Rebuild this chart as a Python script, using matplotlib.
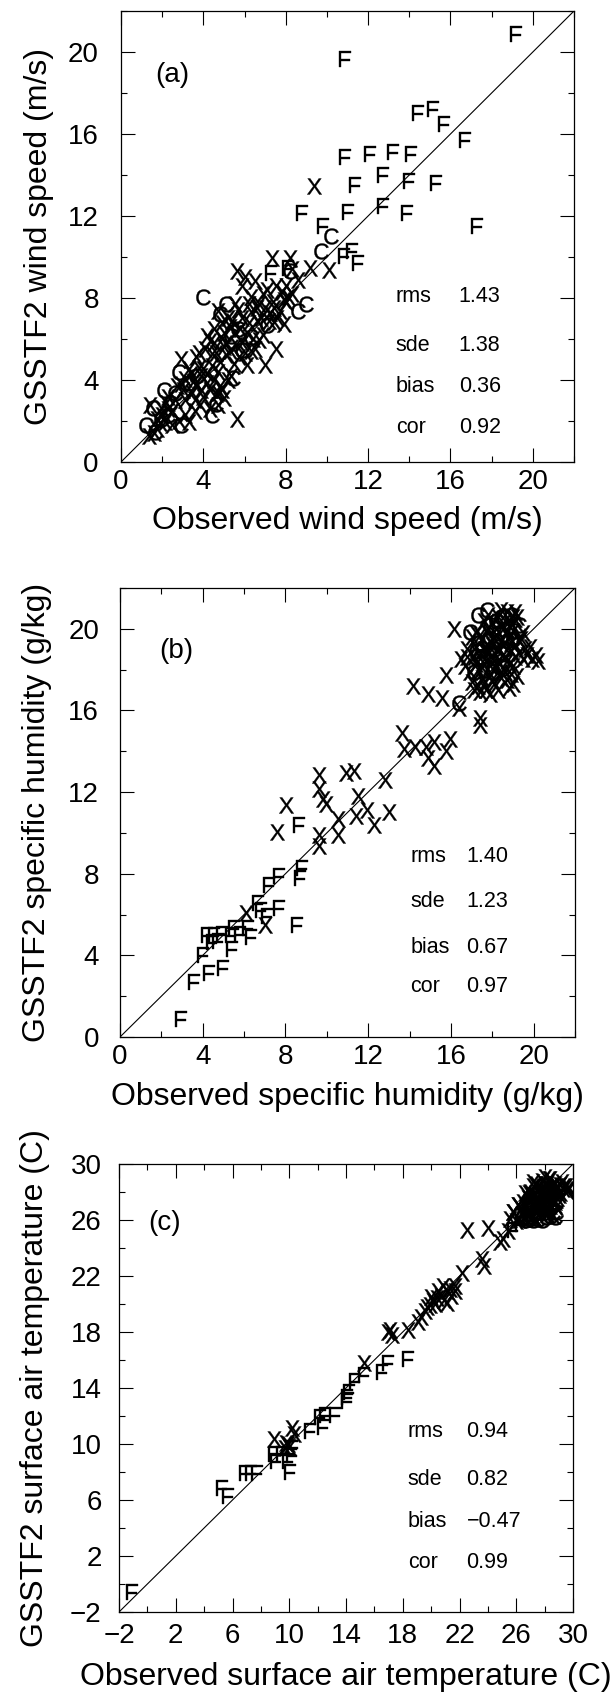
import matplotlib
matplotlib.use('Agg')
import matplotlib.pyplot as plt
from matplotlib.ticker import MultipleLocator

plt.rcParams['font.family'] = ['Liberation Sans', 'DejaVu Sans']
plt.rcParams['mathtext.fontset'] = 'custom'
plt.rcParams['mathtext.rm'] = 'Liberation Sans'
plt.rcParams['axes.unicode_minus'] = True

# ---------------- Panel (a): wind speed ----------------
a_X_x = [7.35, 8.2, 5.65, 8.3, 6.5, 5.9, 7.1, 7.55, 8.0, 8.1, 6.3, 5.55, 6.7, 7.45, 7.25, 7.7, 4.7, 5.2, 5.9, 7.45,
         7.9, 4.5, 5.55, 6.1, 6.7, 4.2, 5.1, 5.9, 6.5, 3.65, 4.4, 5.1, 5.75, 6.1, 2.9, 3.3, 4.0, 4.7, 5.35, 3.1,
         3.65, 4.2, 4.8, 2.7, 3.45, 4.0, 4.7, 2.3, 3.1, 3.85, 1.95, 2.5, 3.1, 1.4, 1.75, 2.15, 3.3, 2.5, 1.35, 1.75,
         4.7, 4.9, 4.5, 4.8, 4.1, 7.0, 7.55, 5.65, 9.35, 10.1, 9.2, 8.6, 8.0, 6.6, 6.9, 5.3, 4.9, 3.9, 4.4, 6.3,
         7.0, 7.6, 7.9, 6.0, 6.9, 5.2, 4.6, 2.8, 2.0, 3.5,
         2.2, 2.6, 3.0, 3.4, 3.8, 4.2, 4.5, 4.3, 3.9, 3.6, 5.0, 5.3, 5.6, 5.0, 5.4, 5.8, 6.2, 6.4, 6.8, 7.2,
         7.4, 6.6, 6.2, 5.7, 4.9, 4.3, 3.8, 4.6, 5.5, 6.0, 6.3, 2.9, 2.3, 1.9, 1.6, 3.6, 4.3, 5.0, 8.3, 7.8]
a_X_y = [9.95, 9.95, 9.3, 9.4, 8.85, 8.6, 8.4, 8.6, 8.6, 8.05, 8.05, 7.7, 7.7, 7.5, 7.25, 7.35, 7.35, 7.0, 7.0, 6.85,
         6.75, 6.5, 6.3, 6.3, 5.95, 6.15, 5.8, 5.8, 5.5, 5.1, 5.25, 5.2, 5.1, 4.75, 5.0, 4.55, 4.55, 4.4, 4.2, 4.05,
         3.8, 3.85, 3.7, 3.7, 3.35, 3.15, 3.35, 3.15, 3.0, 2.8, 2.65, 2.5, 2.3, 2.8, 2.1, 1.95, 1.95, 1.8, 1.25, 1.6,
         2.8, 3.5, 5.8, 4.9, 5.5, 4.75, 5.5, 2.1, 13.45, 9.35, 9.45, 8.9, 7.8, 6.9, 6.2, 6.6, 6.0, 4.2, 4.7, 7.3,
         7.5, 7.0, 7.9, 9.0, 8.2, 4.0, 3.3, 2.0, 2.3, 3.9,
         2.9, 3.0, 3.5, 4.3, 4.6, 4.3, 4.0, 3.5, 3.5, 3.0, 5.6, 5.4, 5.7, 6.3, 6.9, 6.5, 6.8, 6.0, 7.0, 6.9,
         7.8, 7.5, 7.7, 7.4, 6.8, 5.9, 5.3, 5.3, 4.8, 5.3, 5.4, 3.8, 2.6, 1.9, 1.4, 2.5, 2.6, 3.1, 8.2, 8.3]
a_C_x = [1.2, 1.55, 2.1, 2.8, 2.9, 2.3, 2.6, 1.65, 1.95, 4.4, 5.45, 4.0, 5.1, 4.8, 5.7, 6.3, 7.1, 9.0, 8.6, 10.2,
         9.7, 8.2, 3.65, 3.3, 5.9, 5.35, 2.4, 4.6]
a_C_y = [1.8, 2.65, 3.5, 4.4, 1.8, 2.3, 3.35, 1.45, 2.1, 2.3, 4.1, 8.05, 7.7, 7.2, 6.5, 6.1, 6.7, 7.7, 7.35, 11.0,
         10.3, 9.3, 4.2, 3.85, 5.45, 6.15, 2.9, 2.85]
a_F_x = [19.2, 10.9, 14.4, 15.15, 15.7, 16.7, 10.9, 12.1, 13.2, 14.1, 12.7, 14.0, 15.3, 11.35, 8.8, 11.0, 12.7,
         13.9, 17.3, 9.8, 10.85, 11.2, 11.5, 7.3, 8.1]
a_F_y = [20.9, 19.65, 17.0, 17.2, 16.5, 15.7, 14.9, 15.0, 15.1, 15.0, 14.0, 13.7, 13.6, 13.5, 12.15, 12.2, 12.5,
         12.15, 11.5, 11.5, 10.05, 10.3, 9.7, 9.2, 9.45]
a_stat_names = ['rms', 'sde', 'bias', 'cor']
a_stat_values = ['1.43', '1.38', '0.36', '0.92']

# ---------------- Panel (b): specific humidity ----------------
b_X_x = [6.1, 7.0, 8.05, 7.6, 9.6, 9.6, 9.8, 9.95, 9.6, 9.6, 10.55, 10.55, 10.95, 11.3, 11.5, 11.4, 11.95, 12.3,
         12.8, 13.0, 13.65, 13.75, 14.25, 14.15, 14.9, 15.55, 14.8, 14.9, 15.2, 15.2, 15.75, 15.95, 15.75, 16.15,
         16.4, 17.4, 17.4,
         16.5, 16.7, 16.9, 17.0, 17.1, 17.2, 17.3, 17.3, 17.4, 17.5, 17.5, 17.6, 17.7, 17.7, 17.8, 17.9, 17.9, 18.0,
         18.0, 18.1, 18.2, 18.2, 18.3, 18.3, 18.4, 18.5, 18.5, 18.6, 18.6, 18.7, 18.7, 18.8, 18.9, 18.9, 19.0, 19.0,
         19.1, 19.2, 19.3, 19.4, 19.5, 19.7, 19.9, 20.2, 20.1, 17.6, 17.8, 18.4, 19.1, 18.1, 17.4, 17.9, 18.3, 18.7,
         19.2, 17.2, 16.8, 17.0, 18.6, 18.0, 18.4, 17.6, 19.0, 18.8, 19.6,
         17.2, 17.5, 17.7, 17.9, 18.1, 18.3, 18.5, 18.7, 18.9, 19.1, 17.4, 17.8, 18.2, 18.6, 19.0, 18.0, 18.4, 18.8,
         17.6, 19.3, 19.5, 17.1, 16.8, 19.8, 18.9]
b_X_y = [6.1, 5.5, 11.35, 10.05, 12.85, 12.15, 11.65, 11.4, 9.9, 9.35, 10.7, 9.9, 12.95, 13.05, 11.8, 10.85, 11.1,
         10.4, 12.6, 11.0, 14.9, 14.1, 14.2, 17.2, 16.8, 16.6, 14.2, 13.65, 14.45, 13.3, 14.0, 14.6, 17.75, 20.0,
         16.1, 15.65, 15.3,
         18.5, 18.2, 17.9, 17.4, 18.6, 19.1, 18.0, 17.2, 18.8, 19.5, 17.6, 18.3, 19.9, 17.0, 18.9, 19.4, 17.8, 20.3,
         18.5, 17.3, 19.7, 18.1, 20.6, 19.0, 17.6, 18.7, 20.0, 19.3, 17.9, 20.8, 18.4, 19.6, 18.9, 20.3, 19.9, 18.2,
         19.2, 20.6, 18.8, 19.5, 18.5, 18.7, 18.5, 18.4, 18.7, 20.4, 20.7, 20.9, 20.8, 18.8, 16.9, 16.8, 17.0, 17.5,
         17.7, 18.3, 19.0, 19.6, 18.6, 19.2, 19.4, 19.0, 17.3, 17.1, 19.0,
         19.8, 18.1, 18.6, 18.2, 19.5, 18.4, 19.2, 19.9, 19.3, 18.6, 19.7, 20.0, 20.0, 20.4, 20.6, 17.5, 17.9, 18.3,
         17.3, 19.4, 19.8, 17.0, 18.6, 19.1, 17.8]
b_C_x = [16.4, 17.3, 17.75, 18.5, 18.9, 16.9, 17.4, 17.1, 17.8, 18.3, 18.0, 18.6, 19.1, 17.6, 18.4, 17.3, 18.8,
         18.2, 17.9, 19.3, 17.5, 18.1, 18.5, 17.9, 18.7, 17.2, 18.4, 19.0]
b_C_y = [16.35, 20.7, 20.9, 20.65, 20.7, 19.85, 18.6, 17.9, 19.4, 19.8, 17.9, 19.0, 19.9, 18.0, 18.2, 19.3, 20.1,
         20.4, 20.2, 20.2, 19.0, 19.0, 18.1, 18.7, 19.4, 18.9, 20.6, 19.5]
b_F_x = [2.95, 3.6, 4.0, 4.3, 5.0, 4.2, 4.55, 4.95, 5.35, 5.4, 5.5, 5.8, 6.2, 6.35, 6.65, 6.8, 7.1, 7.7, 7.2, 7.7,
         8.7, 8.8, 8.55, 8.65, 4.45, 4.75]
b_F_y = [0.87, 2.7, 4.0, 3.15, 3.4, 5.0, 5.0, 5.05, 5.0, 4.3, 5.35, 5.05, 5.35, 4.9, 6.55, 6.2, 5.95, 6.3, 7.45,
         7.9, 7.8, 8.3, 5.5, 10.4, 4.65, 4.7]
b_stat_names = ['rms', 'sde', 'bias', 'cor']
b_stat_values = ['1.40', '1.23', '0.67', '0.97']

# ---------------- Panel (c): surface air temperature ----------------
c_X_x = [8.95, 10.2, 10.35, 9.7, 9.9, 10.0, 9.8, 15.3, 16.95, 17.1, 17.25, 18.35, 19.05, 19.3, 19.6, 19.9, 20.15,
         20.4, 20.7, 20.85, 21.1, 21.4, 21.7, 21.1, 21.7, 22.2, 22.5, 23.6, 23.75, 24.0, 24.85, 25.1, 25.4, 25.55,
         25.8, 26.1, 26.65, 27.2, 20.0, 20.3, 20.9, 19.7, 21.3, 20.5,
         26.3, 26.5, 26.6, 26.8, 26.9, 27.0, 27.1, 27.2, 27.3, 27.4, 27.5, 27.6, 27.7, 27.8, 27.9, 28.0, 28.1, 28.2,
         28.3, 28.4, 28.5, 28.6, 28.7, 28.8, 28.9, 29.0, 29.1, 29.3, 29.5, 29.6, 26.7, 27.0, 27.3, 27.6, 27.9, 28.2,
         28.4, 28.7, 26.4, 26.2, 26.0, 25.8, 26.1, 27.2, 27.8, 28.4, 28.0, 28.3, 29.4, 29.55, 28.85,
         26.7, 27.0, 27.3, 27.5, 27.7, 27.9, 28.1, 28.3, 28.5, 28.7, 28.9, 29.1, 26.9, 27.4, 28.0, 28.6, 27.1, 28.2,
         29.2, 29.7]
c_X_y = [10.35, 11.15, 10.75, 9.7, 10.0, 9.8, 10.1, 15.8, 18.0, 18.15, 17.8, 18.15, 18.7, 19.1, 19.5, 19.9, 20.25,
         20.4, 20.6, 21.3, 20.9, 20.6, 20.9, 20.1, 21.3, 22.2, 25.3, 23.2, 22.7, 25.45, 24.4, 24.65, 25.2, 26.1,
         26.6, 27.1, 27.9, 28.7, 20.5, 20.0, 20.3, 19.8, 21.1, 20.9,
         26.8, 27.3, 26.2, 27.6, 26.6, 28.0, 27.1, 26.3, 27.8, 26.9, 28.3, 27.4, 26.5, 28.0, 27.2, 28.6, 26.8, 27.7,
         28.2, 27.0, 28.5, 27.5, 28.0, 26.9, 28.3, 27.8, 28.5, 28.2, 28.4, 28.1, 27.0, 26.5, 27.3, 26.9, 27.7, 26.4,
         27.6, 27.3, 26.4, 26.0, 25.9, 26.6, 27.1, 28.4, 28.8, 28.9, 29.1, 28.95, 28.4, 28.2, 28.4,
         26.4, 27.4, 26.1, 27.0, 27.9, 26.6, 27.4, 26.7, 27.9, 28.6, 27.6, 27.9, 27.9, 28.6, 28.2, 26.3, 26.2, 28.6,
         28.7, 28.3]
c_C_x = [26.6, 26.9, 27.2, 27.5, 27.8, 28.1, 28.4, 28.6, 28.7, 27.0, 27.4, 27.8, 28.2, 27.6, 27.1, 26.8, 28.0,
         27.3, 28.5, 27.9, 26.5, 27.0, 27.6, 28.3, 28.8, 27.2, 27.9, 28.4, 26.9, 27.5, 28.1, 28.8]
c_C_y = [26.0, 26.1, 26.0, 26.1, 26.0, 26.2, 26.3, 26.6, 26.2, 26.8, 27.5, 27.3, 27.9, 28.1, 27.6, 27.2, 26.6,
         26.5, 27.2, 28.4, 26.3, 26.3, 26.6, 26.9, 27.3, 27.0, 27.0, 27.5, 27.5, 27.9, 28.0, 26.6]
c_F_x = [-1.1, 5.25, 5.65, 6.9, 7.3, 7.7, 8.95, 9.5, 10.05, 10.2, 10.2, 11.45, 12.15, 12.4, 13.25, 12.55, 14.1,
         14.2, 14.65, 15.3, 16.55, 16.95, 18.35, 25.8, 26.35, 14.1, 9.1, 9.9]
c_F_y = [-0.57, 6.85, 6.3, 7.9, 7.9, 7.9, 9.3, 9.3, 8.0, 9.7, 9.2, 10.9, 11.9, 11.25, 12.05, 12.05, 13.35, 13.75,
         14.5, 14.9, 15.15, 15.8, 16.1, 25.3, 25.7, 13.1, 8.8, 8.8]
c_stat_names = ['rms', 'sde', 'bias', 'cor']
c_stat_values = ['0.94', '0.82', '\u22120.47', '0.99']

W, H = 612, 1692
fig = plt.figure(figsize=(W / 100, H / 100), dpi=100)


def panel(px_rect, lims, offset, series, tag, tag_xy, xlabel, ylabel, names, values, name_x, val_x, stat_y,
          ylab_x, xlab_y, ypad, xpad):
    l, t, r, b = px_rect
    ax = fig.add_axes([l / W, 1 - b / H, (r - l) / W, (b - t) / H])
    ax.set_xlim(*lims)
    ax.set_ylim(*lims)
    ax.plot(lims, lims, color='black', lw=0.8, zorder=1)
    for (mx, my), letter in zip(series, ['X', 'C', 'F']):
        ax.plot(mx, my, ls='none', marker=r'$\mathrm{%s}$' % letter, ms=11.5, color='black', mew=0.25, zorder=2)
    for ax_ in (ax.xaxis, ax.yaxis):
        ax_.set_major_locator(MultipleLocator(4, offset=offset))
        ax_.set_minor_locator(MultipleLocator(2))
    ax.tick_params(which='both', direction='in', top=True, right=True, width=0.8)
    ax.tick_params(which='major', length=10)
    ax.tick_params(which='minor', length=4.5)
    ax.tick_params(axis='y', which='major', labelsize=20, pad=ypad)
    ax.tick_params(axis='x', which='major', labelsize=20, pad=xpad)
    for s in ax.spines.values():
        s.set_linewidth(0.9)
    ax.set_xlabel(xlabel, fontsize=23, va='center')
    ax.xaxis.set_label_coords(0.5, xlab_y)
    ax.set_ylabel(ylabel, fontsize=23, va='center')
    ax.yaxis.set_label_coords(ylab_x, 0.5)
    ax.text(tag_xy[0], tag_xy[1], tag, fontsize=20, ha='center', va='center')
    for n, v, yy in zip(names, values, stat_y):
        ax.text(name_x, yy, n, fontsize=15.5, ha='left', va='center')
        ax.text(val_x, yy, v, fontsize=15.5, ha='left', va='center')
    return ax


panel((121, 11, 574, 462), (0, 22), 0,
      [(a_X_x, a_X_y), (a_C_x, a_C_y), (a_F_x, a_F_y)], '(a)', (2.5, 18.9),
      'Observed wind speed (m/s)', 'GSSTF2 wind speed (m/s)',
      a_stat_names, a_stat_values, 13.35, 16.4, [8.06, 5.7, 3.7, 1.69], -0.18, -0.13, 16, 5)

panel((120, 588, 575, 1037), (0, 22), 0,
      [(b_X_x, b_X_y), (b_C_x, b_C_y), (b_F_x, b_F_y)], '(b)', (2.7, 18.9),
      'Observed specific humidity (g/kg)', 'GSSTF2 specific humidity (g/kg)',
      b_stat_names, b_stat_values, 14.05, 16.75, [8.84, 6.65, 4.37, 2.45], -0.183, -0.133, 15, 5)

panel((119, 1164, 573, 1612), (-2, 30), 2,
      [(c_X_x, c_X_y), (c_C_x, c_C_y), (c_F_x, c_F_y)], '(c)', (1.2, 25.8),
      'Observed surface air temperature (C)', 'GSSTF2 surface air temperature (C)',
      c_stat_names, c_stat_values, 18.35, 22.5, [10.88, 7.5, 4.5, 1.51], -0.185, -0.145, 12.5, 8)

fig.savefig('out.png', dpi=100)
